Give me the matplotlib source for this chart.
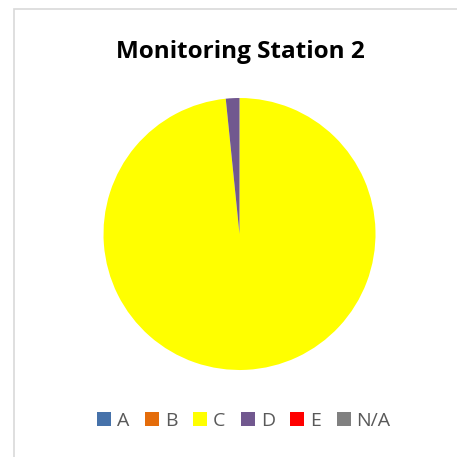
import matplotlib.pyplot as plt
from matplotlib.patches import Patch, Rectangle

categories = ["A", "B", "C", "D", "E", "N/A"]
values = [0, 0, 61, 1, 0, 0]
colors = ["#4672aa", "#e46c0a", "#ffff00", "#71588f", "#ff0000", "#808080"]
title = "Monitoring Station 2"

W = 457
fig = plt.figure(figsize=(W / 100, W / 100), dpi=100)

# chart frame (only top and left edges fall inside the picture)
fig.patches.append(Rectangle((13.5 / W, -0.5), 2.0, 1.5 - 8.5 / W,
                             transform=fig.transFigure, fill=False,
                             edgecolor="#d9d9d9", linewidth=1.2))

# pie centred at (239.5, 234) px, radius 136 px
cx, cy, r = 239.5, 234, 136
ax = fig.add_axes([(cx - r) / W, (W - cy - r) / W, 2 * r / W, 2 * r / W])
ax.pie(values, colors=colors, startangle=90, counterclock=False, radius=1,
       wedgeprops={"linewidth": 0})
ax.set_xlim(-1, 1)
ax.set_ylim(-1, 1)
ax.set_aspect("equal")
ax.axis("off")

fig.text(240 / W, 1 - 52 / W, title, ha="center", va="center",
         fontsize=17.5, fontweight="bold", family="Open Sans", color="#000000")

handles = [Patch(facecolor=c, edgecolor="none") for c in colors]
fig.legend(handles, categories, loc="center", bbox_to_anchor=(244 / W, 1 - 421 / W),
           ncol=6, frameon=False, labelcolor="#595959",
           handlelength=0.72, handleheight=0.72, handletextpad=0.3,
           columnspacing=0.8, prop={"family": "Open Sans", "size": 14})

fig.savefig("out.png", dpi=100, facecolor="white")
